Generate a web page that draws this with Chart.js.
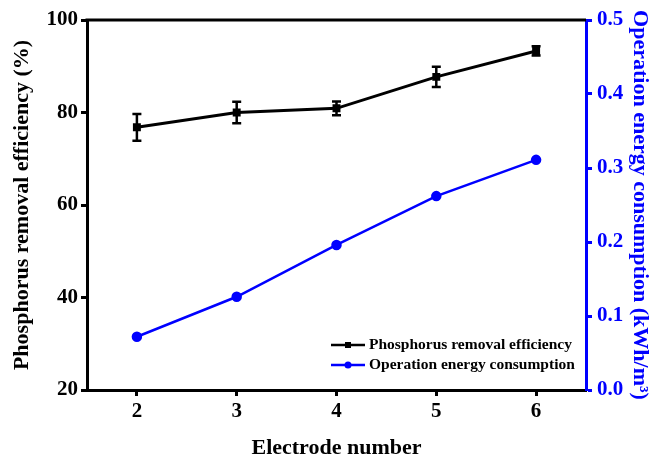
<!DOCTYPE html>
<html>
<head>
<meta charset="utf-8">
<script src="https://cdn.jsdelivr.net/npm/chart.js@4/dist/chart.umd.min.js"></script>
<style>
  html, body { margin: 0; padding: 0; background: #fff; }
  #wrap { width: 653px; height: 462px; position: relative; }
</style>
</head>
<body>
<div id="wrap"><canvas id="chart"></canvas></div>
<script>
const electrodes = [2, 3, 4, 5, 6];
const efficiency = [76.8, 80.0, 80.9, 87.7, 93.3];
const efficiencyErr = [2.9, 2.3, 1.5, 2.2, 1.0];
const energy = [0.072, 0.126, 0.196, 0.262, 0.311];

const xTicks = [2, 3, 4, 5, 6];
const leftTicks = [20, 40, 60, 80, 100];
const rightTicks = [0, 0.1, 0.2, 0.3, 0.4, 0.5];

const BLUE = "#0000ff";
const FONT = "'Liberation Serif', 'Times New Roman', serif";

// error bars for the black series
const errorBars = {
  id: "errorBars",
  afterDatasetsDraw(chart) {
    const ctx = chart.ctx;
    const xs = chart.scales.x;
    const ys = chart.scales.y;
    ctx.save();
    ctx.strokeStyle = "#000";
    ctx.lineWidth = 2.5;
    electrodes.forEach((e, i) => {
      const px = xs.getPixelForValue(e);
      const top = ys.getPixelForValue(efficiency[i] + efficiencyErr[i]);
      const bot = ys.getPixelForValue(efficiency[i] - efficiencyErr[i]);
      ctx.beginPath();
      ctx.moveTo(px, top);
      ctx.lineTo(px, bot);
      ctx.moveTo(px - 4.5, top);
      ctx.lineTo(px + 4.5, top);
      ctx.moveTo(px - 4.5, bot);
      ctx.lineTo(px + 4.5, bot);
      ctx.stroke();
    });
    ctx.restore();
  },
};

// top frame line + legend inside the plot
const frameLegend = {
  id: "frameLegend",
  afterDraw(chart) {
    const ctx = chart.ctx;
    const a = chart.chartArea;
    ctx.save();
    ctx.strokeStyle = "#000";
    ctx.lineWidth = 3;
    ctx.beginPath();
    ctx.moveTo(a.left - 1.5, a.top);
    ctx.lineTo(a.right, a.top);
    ctx.stroke();

    const x0 = 331, x1 = 365;
    const rows = [345, 365];
    chart.data.datasets.forEach((ds, i) => {
      const y = rows[i];
      ctx.strokeStyle = ds.borderColor;
      ctx.fillStyle = ds.borderColor;
      ctx.lineWidth = 2.5;
      ctx.beginPath();
      ctx.moveTo(x0, y);
      ctx.lineTo(x1, y);
      ctx.stroke();
      const mx = (x0 + x1) / 2;
      if (ds.pointStyle === "rect") {
        ctx.fillRect(mx - 3, y - 3, 6, 6);
      } else {
        ctx.beginPath();
        ctx.arc(mx, y, 3.5, 0, Math.PI * 2);
        ctx.fill();
      }
      ctx.fillStyle = "#000";
      ctx.font = "bold 15.5px " + FONT;
      ctx.textBaseline = "middle";
      ctx.textAlign = "left";
      ctx.fillText(ds.label, x1 + 4, y);
    });
    ctx.restore();
  },
};

new Chart(document.getElementById("chart"), {
  type: "line",
  data: {
    datasets: [
      {
        label: "Phosphorus removal efficiency",
        data: electrodes.map((x, i) => ({ x, y: efficiency[i] })),
        borderColor: "#000",
        backgroundColor: "#000",
        borderWidth: 3,
        pointStyle: "rect",
        pointRadius: 3.5,
        yAxisID: "y",
      },
      {
        label: "Operation energy consumption",
        data: electrodes.map((x, i) => ({ x, y: energy[i] })),
        borderColor: BLUE,
        backgroundColor: BLUE,
        borderWidth: 2.5,
        pointStyle: "circle",
        pointRadius: 4,
        yAxisID: "y2",
      },
    ],
  },
  options: {
    responsive: true,
    maintainAspectRatio: false,
    animation: false,
    layout: { padding: { top: 20, left: 0, right: 0, bottom: 0 } },
    plugins: {
      legend: { display: false },
      tooltip: { enabled: false },
    },
    scales: {
      x: {
        type: "linear",
        min: 1.5,
        max: 6.5,
        afterBuildTicks: (s) => { s.ticks = xTicks.map((v) => ({ value: v })); },
        afterFit: (s) => { s.height = 72; },
        border: { display: true, color: "#000", width: 3 },
        grid: { drawOnChartArea: false, drawTicks: true, tickLength: 6, tickWidth: 3, tickColor: "#000" },
        ticks: { color: "#000", padding: 3, font: { family: FONT, size: 21, weight: "bold" } },
        title: {
          display: true,
          text: "Electrode number",
          color: "#000",
          padding: { top: 0, bottom: 0 },
          font: { family: FONT, size: 22, weight: "bold" },
        },
      },
      y: {
        position: "left",
        min: 20,
        max: 100,
        afterBuildTicks: (s) => { s.ticks = leftTicks.map((v) => ({ value: v })); },
        afterFit: (s) => { s.width = 87; },
        border: { display: true, color: "#000", width: 3 },
        grid: { drawOnChartArea: false, drawTicks: true, tickLength: 6, tickWidth: 3, tickColor: "#000" },
        ticks: { color: "#000", padding: 3, font: { family: FONT, size: 21, weight: "bold" } },
        title: {
          display: true,
          text: "Phosphorus removal efficiency (%)",
          color: "#000",
          padding: { top: 9, bottom: 0 },
          font: { family: FONT, size: 22, weight: "bold" },
        },
      },
      y2: {
        position: "right",
        min: 0,
        max: 0.5,
        afterBuildTicks: (s) => { s.ticks = rightTicks.map((v) => ({ value: v })); },
        afterFit: (s) => { s.width = 67; },
        border: { display: true, color: BLUE, width: 3 },
        grid: { drawOnChartArea: false, drawTicks: true, tickLength: 6, tickWidth: 3, tickColor: BLUE },
        ticks: {
          color: BLUE,
          padding: 5,
          callback: (v) => v.toFixed(1),
          font: { family: FONT, size: 21, weight: "bold" },
        },
        title: {
          display: true,
          text: "Operation energy consumption (kWh/m\u00b3)",
          color: BLUE,
          padding: { top: 0, bottom: 0 },
          font: { family: FONT, size: 22, weight: "bold" },
        },
      },
    },
  },
  plugins: [errorBars, frameLegend],
});
</script>
</body>
</html>
